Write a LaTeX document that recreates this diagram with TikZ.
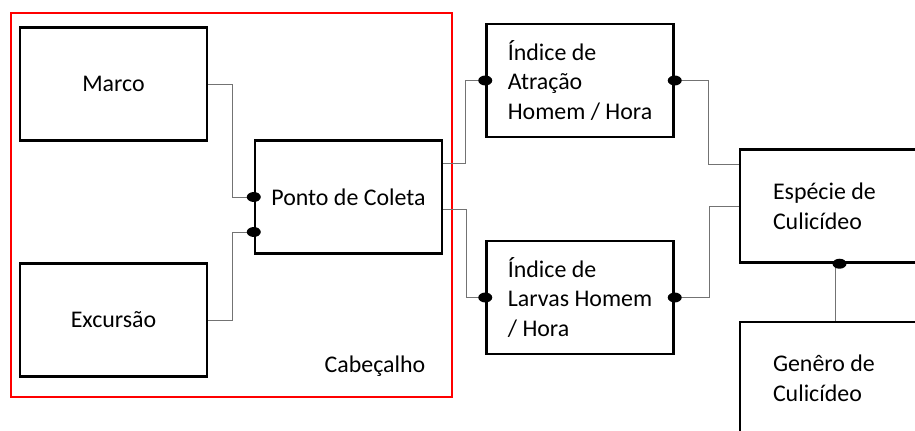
\documentclass[tikz,border=0pt]{standalone}
\usepackage{fontspec}
\setmainfont{Carlito}

\begin{document}
\begin{tikzpicture}[
		entity/.style={draw, line width=1.4pt, minimum width=3.74cm, minimum height=2.26cm, align=left, font=\fontsize{13.6}{16.9}\selectfont},
		entityl/.style={entity, align=flush left, text width=2.42cm, inner xsep=0.66cm},
		wire/.style={draw=black!55, line width=0.55pt},
		dotmark/.style={fill=black}
	]
		\clip (0, 0) rectangle (18.3, 8.6);
		% Group frame:
		\draw[red, line width=1.1pt] (0.22, 0.66) rectangle (9.04, 8.34);
		\node[font=\fontsize{13.6}{16.9}\selectfont] (cabecalho) at (7.5, 1.28){Cabeçalho};
		% Entities:
		\node[entity] (marco) at (2.27, 6.92){Marco};
		\node[entity] (excursao) at (2.27, 2.2){Excursão};
		\node[entity] (ponto) at (6.97, 4.66){Ponto de Coleta};
		\node[entity] (atracao) at (11.6, 6.99){Índice de\\Atração\\Homem / Hora};
		\node[entity] (larvas) at (11.6, 2.65){Índice de\\Larvas Homem\\/ Hora};
		\node[entityl] (especie) at (16.67, 4.48){Espécie de\\Culicídeo};
		\node[entityl] (genero) at (16.67, 1.03){Genêro de\\Culicídeo};
		% Wires:
		\draw[wire] (marco.east) -- ++(0.48, 0) |- (ponto.west);
		\draw[wire] (excursao.east) -- ++(0.48, 0) |- ([yshift=-0.7cm]ponto.west);
		\draw[wire] ([yshift=0.68cm]ponto.east) -- ++(0.44, 0) |- (atracao.west);
		\draw[wire] ([yshift=-0.24cm]ponto.east) -- ++(0.46, 0) |- (larvas.west);
		\draw[wire] (atracao.east) -- ++(0.68, 0) |- ([yshift=0.84cm]especie.west);
		\draw[wire] (larvas.east) -- ++(0.7, 0) |- (especie.west);
		\draw[wire] ([xshift=0.03cm]especie.south) -- ([xshift=0.03cm]genero.north);
		% Ends:
		\fill[dotmark] (ponto.west) ellipse [x radius=0.14, y radius=0.1];
		\fill[dotmark] ([yshift=-0.7cm]ponto.west) ellipse [x radius=0.14, y radius=0.1];
		\fill[dotmark] (atracao.west) ellipse [x radius=0.14, y radius=0.1];
		\fill[dotmark] (atracao.east) ellipse [x radius=0.14, y radius=0.1];
		\fill[dotmark] (larvas.west) ellipse [x radius=0.14, y radius=0.1];
		\fill[dotmark] (larvas.east) ellipse [x radius=0.14, y radius=0.1];
		\fill[dotmark] ([xshift=0.12cm]especie.south) ellipse [x radius=0.14, y radius=0.1];
	\end{tikzpicture}
\end{document}
